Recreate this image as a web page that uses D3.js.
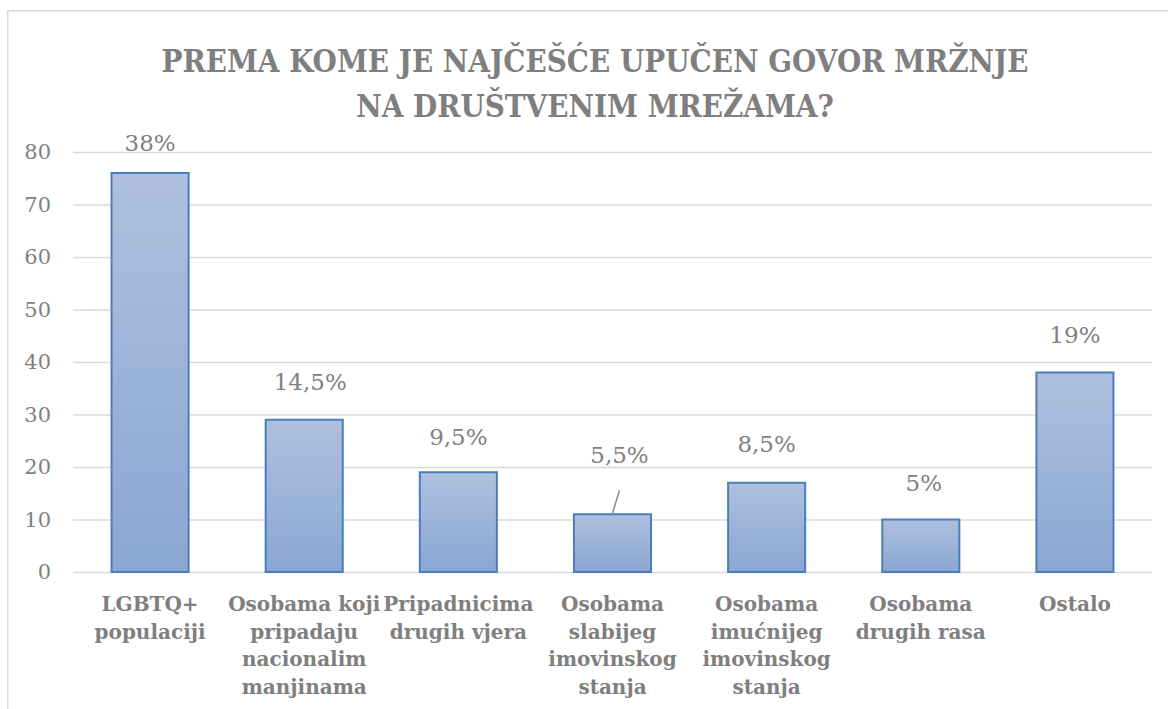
<!DOCTYPE html>
<html>
<head>
<meta charset="utf-8">
<script src="https://cdn.jsdelivr.net/npm/d3@7"></script>
<style>
  body { margin: 0; background: #fff; }
  svg text { font-family: 'DejaVu Serif', 'Liberation Serif', 'Times New Roman', serif; fill: #7f7f7f; }
  .title { font-family: 'DejaVu Serif Condensed', 'DejaVu Serif', serif; font-stretch: condensed; font-weight: bold; font-size: 31px; }
  .tick text { font-size: 21px; }
  .cat { font-weight: bold; font-size: 20px; }
  .value { font-size: 23px; }
</style>
</head>
<body>
<svg width="1168" height="709"></svg>
<script>
const titleLines = ['PREMA KOME JE NAJČEŠĆE UPUČEN GOVOR MRŽNJE', 'NA DRUŠTVENIM MREŽAMA?'];
const categories = [
  ['LGBTQ+', 'populaciji'],
  ['Osobama koji', 'pripadaju', 'nacionalim', 'manjinama'],
  ['Pripadnicima', 'drugih vjera'],
  ['Osobama', 'slabijeg', 'imovinskog', 'stanja'],
  ['Osobama', 'imućnijeg', 'imovinskog', 'stanja'],
  ['Osobama', 'drugih rasa'],
  ['Ostalo']
];
const values = [76, 29, 19, 11, 17, 10, 38];
const valueLabels = ['38%', '14,5%', '9,5%', '5,5%', '8,5%', '5%', '19%'];
const yTicks = [0, 10, 20, 30, 40, 50, 60, 70, 80];

// labels were nudged by hand in the original
const labelLift = [30, 38, 35, 59, 39, 37, 38];
const labelDx = [0, 6, 0, 7, 0, 3, 0];

const svg = d3.select('svg');
const margin = { top: 152, right: 16, bottom: 137, left: 73 };
const width = +svg.attr('width');
const height = +svg.attr('height');
const innerWidth = width - margin.left - margin.right;
const innerHeight = height - margin.top - margin.bottom;

// chart frame, cut off at right and bottom like the original
svg.append('path')
  .attr('d', `M7.75,${height}V10.75H${width}`)
  .attr('fill', 'none')
  .attr('stroke', '#d9d9d9')
  .attr('stroke-width', 1.5);

const defs = svg.append('defs');
const grad = defs.append('linearGradient')
  .attr('id', 'barGrad')
  .attr('x1', 0).attr('y1', 0).attr('x2', 0).attr('y2', 1);
grad.append('stop').attr('offset', '0%').attr('stop-color', '#afc0de');
grad.append('stop').attr('offset', '100%').attr('stop-color', '#8aa6d3');

svg.selectAll('text.title').data(titleLines)
  .enter().append('text')
    .attr('class', 'title')
    .attr('text-anchor', 'middle')
    .attr('x', 595)
    .attr('y', (d, i) => 72 + i * 45)
    .text(d => d);

const xScale = d3.scaleBand()
  .domain(d3.range(values.length))
  .range([margin.left, margin.left + innerWidth])
  .paddingInner(0.5)
  .paddingOuter(0.25);

const yScale = d3.scaleLinear()
  .domain([0, 80])
  .range([margin.top + innerHeight, margin.top]);

const yAxis = d3.axisLeft(yScale)
  .tickValues(yTicks)
  .tickSize(-innerWidth)
  .tickPadding(22);

const yAxisG = svg.append('g')
  .attr('transform', `translate(${margin.left},0)`)
  .call(yAxis)
  .attr('font-family', null)
  .attr('font-size', null);
yAxisG.select('.domain').remove();
yAxisG.selectAll('.tick line')
  .attr('stroke', '#d9d9d9')
  .attr('stroke-width', 1.5);
yAxisG.selectAll('.tick text')
  .attr('fill', '#7f7f7f');

svg.selectAll('rect.bar').data(values)
  .enter().append('rect')
    .attr('class', 'bar')
    .attr('x', (d, i) => xScale(i))
    .attr('y', d => yScale(d))
    .attr('width', xScale.bandwidth())
    .attr('height', d => yScale(0) - yScale(d))
    .attr('fill', 'url(#barGrad)')
    .attr('stroke', '#4a7ebb')
    .attr('stroke-width', 2);

const cx = i => xScale(i) + xScale.bandwidth() / 2;
const leaderIdx = d3.range(values.length).filter(i => labelLift[i] > 50);

svg.selectAll('line.leader').data(leaderIdx)
  .enter().append('line')
    .attr('class', 'leader')
    .attr('x1', i => cx(i))
    .attr('y1', i => yScale(values[i]) - 1)
    .attr('x2', i => cx(i) + labelDx[i])
    .attr('y2', i => yScale(values[i]) - labelLift[i] + 35)
    .attr('stroke', '#8c8c8c')
    .attr('stroke-width', 1.5);

svg.selectAll('text.value').data(valueLabels)
  .enter().append('text')
    .attr('class', 'value')
    .attr('text-anchor', 'middle')
    .attr('x', (d, i) => cx(i) + labelDx[i])
    .attr('y', (d, i) => yScale(values[i]) - labelLift[i])
    .attr('dy', '0.35em')
    .text(d => d);

// one text per wrapped line of each category
const catLines = categories.flatMap((lines, i) => lines.map((t, j) => ({ t, i, j })));
svg.selectAll('text.cat').data(catLines)
  .enter().append('text')
    .attr('class', 'cat')
    .attr('text-anchor', 'middle')
    .attr('x', d => cx(d.i))
    .attr('y', d => yScale(0) + 39 + d.j * 27.5)
    .text(d => d.t);
</script>
</body>
</html>
